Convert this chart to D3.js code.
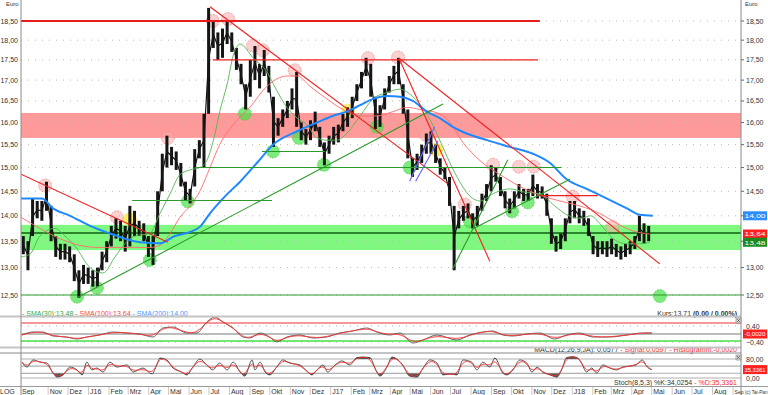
<!DOCTYPE html>
<html>
<head>
<meta charset="utf-8">
<script src="https://cdn.jsdelivr.net/npm/d3@7"></script>
<style>
  body { margin: 0; background: #fff; }
  svg { display: block; font-family: "Liberation Sans", Arial, sans-serif; }
  .lbl { font-size: 7px; fill: #333; }
</style>
</head>
<body>
<div id="chart"></div>
<script>
// ---- chart data ----
// time runs in weeks from the first visible trading week
const startDate = new Date(2015, 8, 21);
const endDate = new Date(2018, 8, 13);
const monthNames = ["J", "Feb", "Mrz", "Apr", "Mai", "Jun", "Jul", "Aug", "Sep", "Okt", "Nov", "Dez"];
const priceTicks = [12.5, 13, 13.5, 14, 14.5, 15, 15.5, 16, 16.5, 17, 17.5, 18, 18.5];

// weekly low / high of the candles
const weekLow = [
  13.25, 12.95, 13.6, 13.95, 13.9, 14.1, 13.5, 13.2, 13.15, 13.15,
  13.1, 12.75, 12.45, 12.7, 12.7, 12.65, 12.65, 12.95, 13.1, 13.4,
  13.55, 13.5, 13.3, 13.4, 13.6, 13.6, 13.5, 13.2, 13.05, 13.6,
  14.5, 15.0, 15.05, 14.95, 14.6, 14.3, 14.25, 14.6, 15.2, 15.0,
  16.2, 17.8, 17.5, 17.55, 17.9, 17.7, 17.25, 16.9, 16.3, 16.6,
  17.0, 16.8, 17.1, 16.7, 15.45, 15.7, 15.9, 16.1, 16.3, 15.9,
  15.6, 15.5, 15.6, 15.8, 15.45, 15.05, 15.3, 15.5, 15.55, 15.8,
  15.9, 16.1, 16.5, 16.8, 17.1, 16.6, 15.85, 15.9, 16.3, 16.7,
  16.9, 16.9, 16.2, 15.2, 14.8, 14.95, 15.1, 15.3, 15.3, 15.1,
  14.85, 14.75, 14.2, 12.95, 13.75, 13.9, 13.95, 13.75, 13.8, 14.1,
  14.3, 14.5, 14.7, 14.4, 14.15, 14.05, 14.15, 14.35, 14.3, 14.3,
  14.4, 14.35, 14.35, 14.0, 13.45, 13.3, 13.35, 13.5, 13.85, 13.95,
  13.85, 13.8, 13.6, 13.25, 13.2, 13.25, 13.2, 13.25, 13.2, 13.15,
  13.2, 13.25, 13.35, 13.5, 13.45, 13.5
];
const weekHigh = [
  13.6, 13.5, 14.35, 14.3, 14.3, 14.7, 14.2, 13.6, 13.45, 13.45,
  13.4, 13.25, 12.95, 13.05, 13.0, 12.95, 13.0, 13.3, 13.5, 13.8,
  13.95, 13.9, 13.8, 14.2, 14.1, 13.9, 13.85, 13.6, 13.6, 14.5,
  15.3, 15.7, 15.45, 15.35, 15.1, 14.7, 14.55, 15.4, 15.6, 16.2,
  18.85, 18.5, 18.2, 18.3, 18.5, 18.2, 17.8, 17.4, 16.9, 17.5,
  17.85, 17.4, 17.75, 17.35, 16.6, 16.1, 16.3, 16.5, 16.8, 17.2,
  16.0, 15.85, 16.05, 16.25, 15.9, 15.55, 15.7, 15.9, 15.95, 16.2,
  16.35, 16.6, 16.9, 17.2, 17.55, 17.4, 16.6, 16.4, 16.8, 17.1,
  17.35, 17.55, 16.9, 16.3, 15.2, 15.3, 15.5, 15.75, 15.8, 15.5,
  15.2, 15.0, 14.8, 14.2, 14.1, 14.2, 14.25, 14.05, 14.2, 14.45,
  14.65, 15.05, 15.0, 14.8, 14.5, 14.35, 14.5, 14.65, 14.55, 14.55,
  14.85, 14.65, 14.6, 14.45, 13.95, 13.6, 13.65, 13.95, 14.3, 14.3,
  14.15, 14.1, 13.95, 13.6, 13.5, 13.5, 13.5, 13.55, 13.45, 13.4,
  13.45, 13.5, 13.6, 14.0, 13.85, 13.8
];

// moving averages as [week, value]
const sma30 = [
  [0, 13.2], [1.9, 13.25], [4.1, 13.6], [7.3, 13.75], [9.5, 13.6], [11.7, 13.4], [14.9, 13.0],
  [17.7, 12.9], [20.3, 13.2], [22.4, 13.45], [24.6, 13.6], [27.8, 13.65], [30.0, 14.05],
  [32.2, 14.45], [34.3, 14.85], [36.5, 14.95], [38.6, 15.0], [40.1, 15.15], [41.9, 15.75],
  [42.9, 16.25], [44.5, 16.9], [45.8, 17.6], [47.3, 17.9], [50.1, 17.55], [53.1, 17.2],
  [55.2, 16.75], [57.4, 16.35], [59.6, 16.1], [61.7, 15.95], [63.9, 15.65], [66.0, 15.6],
  [68.2, 15.6], [70.3, 15.75], [73.2, 16.15], [76.0, 16.55], [79.0, 16.7], [81.8, 16.78],
  [84.6, 16.6], [87.6, 16.2], [90.4, 15.6], [92.6, 15.1], [94.7, 14.7], [96.9, 14.4],
  [99.1, 14.3], [101.9, 14.45], [105.5, 14.55], [108.8, 14.48], [112.0, 14.45], [115.2, 14.2],
  [118.3, 14.0], [120.9, 13.95], [123.0, 14.0], [124.9, 13.85], [127.8, 13.55], [130.8, 13.45],
  [133.6, 13.45], [135.7, 13.48]
];
const sma100 = [
  [0, 13.97], [4.1, 13.75], [8.4, 13.55], [12.7, 13.42], [17.0, 13.38], [27.8, 13.38],
  [30.0, 13.42], [32.2, 13.65], [34.3, 13.97], [36.5, 14.2], [38.6, 14.5], [40.8, 15.0],
  [42.9, 15.5], [46.2, 16.0], [49.4, 16.35], [53.1, 16.85], [57.4, 17.1], [59.6, 17.1],
  [62.4, 16.85], [66.0, 16.55], [69.5, 16.3], [73.2, 16.15], [76.8, 16.15], [80.3, 16.25],
  [83.3, 16.35], [86.1, 16.3], [90.4, 16.2], [92.6, 16.0], [95.4, 15.55], [99.1, 15.15],
  [103.4, 14.85], [107.7, 14.6], [112.0, 14.42], [116.3, 14.3], [120.6, 14.2], [124.9, 14.05],
  [128.6, 13.85], [132.1, 13.7], [135.7, 13.64]
];
const sma200 = [
  [0, 14.35], [4.5, 14.35], [6.9, 14.15], [10.6, 14.0], [14.9, 13.8], [19.2, 13.65],
  [22.4, 13.55], [25.7, 13.48], [30.0, 13.46], [33.2, 13.6], [36.5, 13.68], [38.6, 13.78],
  [40.8, 14.05], [44.4, 14.43], [47.3, 14.7], [51.1, 15.12], [54.4, 15.5], [59.6, 15.8],
  [63.9, 16.0], [67.3, 16.15], [70.3, 16.25], [73.2, 16.4], [76.0, 16.55], [79.0, 16.62],
  [81.8, 16.6], [84.6, 16.5], [87.6, 16.25], [90.4, 16.1], [93.2, 15.9], [96.2, 15.75],
  [100.6, 15.6], [105.5, 15.45], [110.5, 15.3], [114.2, 15.1], [117.8, 14.75], [122.1, 14.55],
  [126.5, 14.35], [130.8, 14.15], [133.6, 14.02], [136.4, 14.0]
];

// oscillators as [week, value]
const macdValues = [
  [0.2, -0.05], [2.6, 0.1], [4.7, 0.1], [6.9, -0.1], [9.9, -0.15], [12.1, -0.25], [14.2, -0.15],
  [17.0, -0.05], [19.9, 0.1], [22.9, 0.05], [25.7, 0], [28.5, -0.15], [30.6, 0.3], [32.8, 0.35],
  [35.8, 0.05], [38.0, 0.05], [40.1, 0.6], [41.9, 0.85], [43.6, 0.6], [45.8, 0.3], [47.9, -0.15],
  [49.4, -0.2], [51.6, 0.05], [53.7, -0.15], [55.2, -0.4], [57.4, -0.15], [60.2, -0.05],
  [63.0, -0.2], [66.0, -0.15], [68.8, 0.05], [71.6, 0.15], [74.7, 0.3], [76.8, 0.1],
  [79.6, -0.05], [81.8, 0.05], [84.6, -0.45], [86.8, -0.3], [89.8, -0.05], [94.1, -0.3],
  [96.9, -0.05], [99.7, 0.1], [101.9, 0.15], [104.0, -0.05], [106.2, -0.1], [109.2, 0],
  [112.0, 0.05], [115.2, -0.25], [117.8, -0.05], [120.6, 0.05], [123.4, -0.15], [127.1, -0.15],
  [130.8, -0.05], [134.2, 0.05], [136.2, 0.05]
];
const stochK = [
  [0.2, 67], [1.3, 46], [2.6, 76], [4.1, 67], [5.6, 63], [6.9, 21], [7.8, 4], [9.1, 13],
  [10.6, 46], [12.1, 34], [13.2, 13], [14.2, 67], [15.3, 34], [16.4, 42], [17.7, 25], [19.2, 67],
  [20.7, 46], [22.9, 55], [24.2, 25], [26.3, 42], [28.3, 17], [29.3, 55], [30.0, 84], [31.5, 76],
  [32.8, 42], [34.7, 25], [35.8, 13], [37.1, 46], [38.6, 80], [40.1, 55], [41.4, 34], [42.9, 63],
  [44.5, 34], [45.8, 67], [47.3, 25], [48.3, 8], [49.9, 76], [50.5, 34], [51.6, 67], [52.7, 25],
  [53.7, 13], [55.2, 46], [56.5, 76], [58.0, 63], [60.2, 55], [61.9, 25], [62.8, 13], [63.9, 34],
  [65.2, 55], [66.2, 25], [67.8, 55], [69.3, 72], [71.0, 55], [72.5, 86], [73.8, 88], [75.3, 86],
  [76.8, 25], [77.5, 8], [79.0, 46], [80.1, 88], [81.4, 76], [82.4, 55], [83.9, 8], [85.5, 4],
  [86.8, 42], [88.3, 76], [89.8, 63], [91.1, 13], [92.6, 17], [94.1, 13], [95.4, 76], [97.3, 67],
  [98.4, 34], [99.7, 67], [101.2, 46], [102.3, 84], [104.0, 21], [104.9, 13], [106.2, 34],
  [107.7, 76], [109.2, 63], [110.3, 25], [111.4, 46], [112.6, 25], [114.2, 13], [115.7, 4],
  [116.7, 34], [117.8, 86], [119.1, 90], [120.2, 84], [120.9, 67], [122.1, 25], [123.2, 42],
  [124.3, 21], [125.6, 55], [127.1, 42], [128.6, 34], [129.9, 46], [131.4, 50], [132.8, 55],
  [134.1, 76], [135.2, 46], [136.2, 35]
];

// drawn analysis: zones, lines [[week, price], [week, price]] and marker circles
const redZone = [15.65, 16.22];
const greenZone = [13.33, 13.82];
const supportLevel = 13.66;
const bottomLevel = 12.5;
const redLines = [
  [[0, 14.86], [31.7, 13.48]],
  [[40.8, 18.88], [92.1, 14.66]],
  [[81.6, 17.54], [101.2, 13.12]],
  [[81.6, 17.54], [137.9, 13.07]],
  [[41.4, 17.5], [111.6, 17.5]],
  [[111.4, 14.41], [124.5, 14.41]]
];
const topLine = [[0, 18.5], [112.0, 18.5]];
const greenLines = [
  [[12.1, 12.45], [91.1, 16.43]],
  [[24.0, 14.31], [54.2, 14.31]],
  [[37.5, 15.0], [116.7, 15.0]],
  [[52.0, 15.35], [65.6, 15.35]],
  [[93.2, 12.98], [105.1, 15.17]],
  [[97.5, 13.74], [118.5, 14.75]]
];
const blueLines = [
  [[83.9, 14.71], [89.3, 15.9]],
  [[85.2, 14.71], [90.0, 15.58]]
];
const pinkMarks = [
  [5.2, 14.62], [20.7, 13.97], [31.7, 15.65], [41.4, 18.5], [44.7, 18.55], [50.1, 17.86],
  [52.2, 17.74], [59.1, 17.24], [74.9, 17.54], [81.4, 17.56], [87.4, 15.72], [95.8, 14.23],
  [101.9, 15.06], [107.5, 15.02], [110.7, 15.02], [119.1, 14.39], [127.7, 13.78]
];
const greenMarks = [
  [12.1, 12.47], [16.4, 12.63], [27.8, 13.14], [36.0, 14.29], [48.3, 16.2], [54.4, 15.35],
  [60.0, 15.65], [65.4, 15.06], [76.8, 15.9], [83.9, 15.0], [96.9, 13.89], [106.0, 14.09],
  [109.4, 14.27], [137.9, 12.48]
];
const yellowMarks = [[23.5, 13.93], [70.6, 16.27], [89.6, 15.39]];

// last values shown in boxes on the right axis
const lastValues = [[14.0, "14,00", "#2f8cff"], [13.64, "13,64", "#ff2020"], [13.48, "13,48", "#1e8a1e"]];

const toDate = (w) => new Date(startDate.getTime() + w * 7 * 864e5);
const fmt = (v, n = 2) => d3.format(`.${n}f`)(v).replace(".", ",");

class TaiPanChart {
  constructor(parentElement) {
    this.config = {
      parentElement: parentElement,
      width: 768,
      height: 395,
      left: 21,
      right: 741,
      mainBottom: 316,
      macdTop: 317,
      macdBottom: 347,
      stochTop: 354,
      stochBottom: 386,
      axisY: 387
    };
    this.initVis();
  }

  initVis() {
    let vis = this;
    const c = vis.config;

    vis.svg = d3.select(c.parentElement).append("svg")
      .attr("width", c.width)
      .attr("height", c.height);

    // scales
    vis.x = d3.scaleTime().domain([startDate, endDate]).range([c.left, c.right]);
    vis.y = d3.scaleLog().domain([12.5, 18.5]).range([295, 21]);
    vis.yMacd = d3.scaleLinear().domain([-0.4, 0.4]).range([342, 326]);
    vis.yStoch = d3.scaleLinear().domain([0, 80]).range([378, 359]);

    const defs = vis.svg.append("defs");
    const clip = (id, y0, y1) => defs.append("clipPath").attr("id", id)
      .append("rect").attr("x", c.left).attr("y", y0)
      .attr("width", c.right - c.left).attr("height", y1 - y0);
    clip("clip-main", 0, c.mainBottom);
    clip("clip-macd", c.macdTop, c.macdBottom);
    clip("clip-stoch", c.stochTop, c.stochBottom);
    clip("clip-over", 0, vis.yStoch(80));
    clip("clip-under", vis.yStoch(20), c.stochBottom);

    vis.renderMain();
    vis.renderMacd();
    vis.renderStoch();
    vis.renderFrame();
  }

  renderMain() {
    let vis = this;
    const c = vis.config;
    const g = vis.svg.append("g").attr("clip-path", "url(#clip-main)");
    const px = (d) => vis.x(toDate(d[0]));
    const py = (d) => vis.y(d[1]);

    // resistance / support zones
    g.append("rect").attr("x", c.left).attr("width", c.right - c.left)
      .attr("y", vis.y(redZone[1])).attr("height", vis.y(redZone[0]) - vis.y(redZone[1]))
      .attr("fill", "#ff9a9a");
    g.append("rect").attr("x", c.left).attr("width", c.right - c.left)
      .attr("y", vis.y(greenZone[1])).attr("height", vis.y(greenZone[0]) - vis.y(greenZone[1]))
      .attr("fill", "#80f880");

    // dotted horizontal grid
    g.selectAll(".grid").data(priceTicks).join("line")
      .attr("x1", c.left).attr("x2", c.right)
      .attr("y1", (d) => vis.y(d)).attr("y2", (d) => vis.y(d))
      .attr("stroke", "#b8b8b8").attr("stroke-dasharray", "1,6");

    // marker circles
    const marks = (data, fill, stroke) => g.append("g").selectAll("circle").data(data).join("circle")
      .attr("cx", px).attr("cy", py).attr("r", 6.5)
      .attr("fill", fill).attr("stroke", stroke).attr("stroke-dasharray", "2,1");
    marks(pinkMarks, "rgba(246,170,170,0.55)", "rgba(235,140,140,0.7)");
    marks(greenMarks, "rgba(70,225,70,0.7)", "rgba(60,200,60,0.6)");
    marks(yellowMarks, "rgba(255,235,60,0.8)", "rgba(240,220,40,0.7)");

    // full width levels
    const hLine = (level, color, w) => g.append("line")
      .attr("x1", c.left).attr("x2", c.right)
      .attr("y1", vis.y(level)).attr("y2", vis.y(level))
      .attr("stroke", color).attr("stroke-width", w);
    hLine(bottomLevel, "#2a9a2a", 1.2);
    hLine(supportLevel, "#0f5f0f", 1.5);

    // candles (weekly range bars)
    const candles = weekLow.map((lo, i) => ({ date: toDate(i + 0.5), low: lo, high: weekHigh[i] }));
    g.append("path").datum(candles)
      .attr("fill", "none").attr("stroke", "#111").attr("stroke-width", 1.2)
      .attr("d", d3.line().x((d) => vis.x(d.date)).y((d) => vis.y((d.low + d.high) / 2)));
    g.selectAll(".candle").data(candles).join("line")
      .attr("x1", (d) => vis.x(d.date)).attr("x2", (d) => vis.x(d.date))
      .attr("y1", (d) => vis.y(d.low)).attr("y2", (d) => vis.y(d.high))
      .attr("stroke", "#151515").attr("stroke-width", 3);

    // moving averages
    const maLine = d3.line().x(px).y(py).curve(d3.curveMonotoneX);
    g.append("path").datum(sma30).attr("d", maLine)
      .attr("fill", "none").attr("stroke", "#55b455").attr("stroke-width", 0.9);
    g.append("path").datum(sma100).attr("d", maLine)
      .attr("fill", "none").attr("stroke", "#ff6a6a").attr("stroke-width", 0.9);
    g.append("path").datum(sma200).attr("d", maLine)
      .attr("fill", "none").attr("stroke", "#1e88ff").attr("stroke-width", 2);

    // trend lines
    const seg = (data, color, w) => g.append("g").selectAll("line").data(data).join("line")
      .attr("x1", (d) => px(d[0])).attr("y1", (d) => py(d[0]))
      .attr("x2", (d) => px(d[1])).attr("y2", (d) => py(d[1]))
      .attr("stroke", color).attr("stroke-width", w);
    seg(redLines, "#f02020", 1.1);
    seg([topLine], "#e81c1c", 2);
    seg(greenLines, "#2a9a2a", 1.1);
    seg(blueLines, "#6a6aff", 1.2);

    // legend and last price
    const leg = vis.svg.append("text").attr("class", "lbl").attr("x", 22).attr("y", 315.5);
    leg.append("tspan").attr("fill", "#3aa83a").text("- SMA(30):13,48 ");
    leg.append("tspan").attr("fill", "#ff4040").text("- SMA(100):13,64 ");
    leg.append("tspan").attr("fill", "#3d9bff").text("- SMA(200):14,00");
    const kurs = vis.svg.append("text").attr("class", "lbl").attr("x", 737).attr("y", 315.5)
      .attr("text-anchor", "end");
    kurs.append("tspan").text("Kurs:13,71 ");
    kurs.append("tspan").attr("font-weight", "bold").text("(0,00 / 0,00%)");
  }

  renderMacd() {
    let vis = this;
    const c = vis.config;
    const g = vis.svg.append("g").attr("clip-path", "url(#clip-macd)");
    const px = (d) => vis.x(toDate(d[0]));
    const py = (d) => vis.yMacd(d[1]);

    g.selectAll(".dot").data([0.4, -0.4]).join("line")
      .attr("x1", c.left).attr("x2", c.right)
      .attr("y1", (d) => vis.yMacd(d)).attr("y2", (d) => vis.yMacd(d))
      .attr("stroke", "#aaa").attr("stroke-dasharray", "1,6");
    const hl = (v, color, w) => g.append("line").attr("x1", c.left).attr("x2", c.right)
      .attr("y1", vis.yMacd(v)).attr("y2", vis.yMacd(v)).attr("stroke", color).attr("stroke-width", w);
    hl(0.55, "#f03030", 1.2);
    hl(0, "#555", 0.8);
    hl(-0.35, "#44e044", 1.5);

    g.append("path").datum(macdValues)
      .attr("d", d3.line().x(px).y(py).curve(d3.curveMonotoneX))
      .attr("fill", "none").attr("stroke", "#555").attr("stroke-width", 0.9);
    g.append("path").datum(macdValues)
      .attr("d", d3.line().x(px).y(py).curve(d3.curveBasis))
      .attr("fill", "none").attr("stroke", "#ff3030").attr("stroke-width", 0.9);

    const t = vis.svg.append("text").attr("class", "lbl").attr("x", 737).attr("y", 351.5)
      .attr("text-anchor", "end");
    t.append("tspan").text("MACD(12,26,9,JA): 0,0577 ");
    t.append("tspan").attr("fill", "#f03030").text("- Signal:0,0597 - Histogramm:-0,0020");

    vis.svg.append("text").attr("class", "lbl").attr("x", 746).attr("y", vis.yMacd(0.4) + 2.5).text(fmt(0.4));
    vis.svg.append("text").attr("class", "lbl").attr("x", 746).attr("y", vis.yMacd(-0.4) + 2.5).text(fmt(-0.4));
    vis.valueBox(vis.yMacd(0), "-0,0020", "#ff2020");
  }

  renderStoch() {
    let vis = this;
    const c = vis.config;
    const g = vis.svg.append("g").attr("clip-path", "url(#clip-stoch)");
    const px = (d) => vis.x(toDate(d[0]));
    const py = (d) => vis.yStoch(d[1]);

    g.selectAll(".lvl").data([80, 50, 20, 0]).join("line")
      .attr("x1", c.left).attr("x2", c.right)
      .attr("y1", (d) => vis.yStoch(d)).attr("y2", (d) => vis.yStoch(d))
      .attr("stroke", "#b0b0b0").attr("stroke-width", 1.2);

    // shaded over-bought / over-sold parts
    const area = (level) => d3.area().x(px).y0(vis.yStoch(level)).y1(py).curve(d3.curveMonotoneX);
    g.append("path").datum(stochK).attr("d", area(80)).attr("fill", "#555")
      .attr("clip-path", "url(#clip-over)");
    g.append("path").datum(stochK).attr("d", area(20)).attr("fill", "#555")
      .attr("clip-path", "url(#clip-under)");

    g.append("path").datum(stochK)
      .attr("d", d3.line().x(px).y(py).curve(d3.curveMonotoneX))
      .attr("fill", "none").attr("stroke", "#444").attr("stroke-width", 0.9);
    g.append("path").datum(stochK)
      .attr("d", d3.line().x(px).y(py).curve(d3.curveBasis))
      .attr("fill", "none").attr("stroke", "#ff3030").attr("stroke-width", 0.9);

    const t = vis.svg.append("text").attr("class", "lbl").attr("x", 737).attr("y", 385)
      .attr("text-anchor", "end");
    t.append("tspan").text("Stoch(8,5,3) %K:34,0254 ");
    t.append("tspan").attr("fill", "#f03030").text("- %D:35,3361");

    vis.svg.append("text").attr("class", "lbl").attr("x", 746).attr("y", vis.yStoch(80) + 2.5).text("80,00");
    vis.svg.append("text").attr("class", "lbl").attr("x", 746).attr("y", vis.yStoch(0) + 2.5).text("0,00");
    vis.valueBox(vis.yStoch(35.3361), "35,3361", "#ff2020");
  }

  valueBox(yPos, text, color) {
    let vis = this;
    vis.svg.append("rect").attr("x", 743).attr("y", yPos - 4.5).attr("width", 24).attr("height", 9)
      .attr("fill", color);
    vis.svg.append("text").attr("class", "lbl").attr("x", 744.5).attr("y", yPos + 2.3)
      .style("font-size", "6.2px")
      .attr("textLength", 21).attr("lengthAdjust", "spacingAndGlyphs")
      .style("fill", "#fff").text(text);
  }

  renderFrame() {
    let vis = this;
    const c = vis.config;

    // panel separators
    const sep = (y, color, w, x2 = c.right) => vis.svg.append("line")
      .attr("x1", 0).attr("x2", x2).attr("y1", y).attr("y2", y)
      .attr("stroke", color).attr("stroke-width", w);
    sep(316.5, "#c4c4c4", 2);
    sep(347.5, "#c4c4c4", 2);
    sep(353, "#8a8a8a", 1);
    sep(386.5, "#9a9a9a", 1, c.width);

    // axes lines
    [c.left, c.right].forEach((xv) => vis.svg.append("line")
      .attr("x1", xv).attr("x2", xv).attr("y1", 0).attr("y2", c.height)
      .attr("stroke", "#8a8a8a"));

    // price labels both sides; right labels hidden under the value boxes are left out
    const freeTicks = priceTicks.filter((t) => lastValues.every((b) => Math.abs(vis.y(t) - vis.y(b[0])) > 6));
    vis.svg.selectAll(".ltick").data(priceTicks).join("text").attr("class", "lbl")
      .attr("x", 18).attr("y", (d) => vis.y(d) + 2.5).attr("text-anchor", "end").text((d) => fmt(d));
    vis.svg.selectAll(".rtick").data(freeTicks).join("text").attr("class", "lbl")
      .attr("x", 746).attr("y", (d) => vis.y(d) + 2.5).text((d) => fmt(d));
    vis.svg.selectAll(".rtm").data(priceTicks).join("line")
      .attr("x1", c.right).attr("x2", c.right + 3)
      .attr("y1", (d) => vis.y(d)).attr("y2", (d) => vis.y(d)).attr("stroke", "#666");
    vis.svg.append("text").attr("class", "lbl").attr("x", 6).attr("y", 6).style("font-size", "6px").text("Euro");
    vis.svg.append("text").attr("class", "lbl").attr("x", 745).attr("y", 6).style("font-size", "6px").text("Euro");

    // last values of the averages
    lastValues.forEach((b) => vis.valueBox(vis.y(b[0]), b[1], b[2]));

    // close buttons of the sub panels
    [318, 355].forEach((yv) => {
      vis.svg.append("rect").attr("x", 736).attr("y", yv).attr("width", 5).attr("height", 5)
        .attr("fill", "#ddd").attr("stroke", "#666").attr("stroke-width", 0.5);
      vis.svg.append("path").attr("d", `M737,${yv + 1}L740,${yv + 4}M740,${yv + 1}L737,${yv + 4}`)
        .attr("stroke", "#333").attr("stroke-width", 0.6);
    });

    // month axis
    const months = d3.timeMonth.range(d3.timeMonth.ceil(startDate), endDate)
      .filter((m) => m > new Date(2015, 9, 15));
    vis.svg.selectAll(".mtick").data(months).join("line")
      .attr("x1", (d) => vis.x(d)).attr("x2", (d) => vis.x(d))
      .attr("y1", c.axisY).attr("y2", c.height).attr("stroke", "#c8c8c8");
    vis.svg.selectAll(".mlbl").data(months).join("text").attr("class", "lbl")
      .attr("x", (d) => vis.x(d) + 1.5).attr("y", 393.5)
      .each(function (d) {
        // the last label is squeezed against the right axis
        if (vis.x(d) + 13 > c.right) {
          d3.select(this).attr("textLength", 9).attr("lengthAdjust", "spacingAndGlyphs")
            .style("font-size", "6px");
        }
      })
      .text((d) => d.getMonth() === 0 ? "J" + String(d.getFullYear()).slice(2) : monthNames[d.getMonth()]);
    vis.svg.append("text").attr("class", "lbl").attr("x", 22).attr("y", 393.5).text("Sep");
    vis.svg.append("text").attr("class", "lbl").attr("x", 0).attr("y", 393.5).text("LOG");
    vis.svg.append("text").attr("class", "lbl").attr("x", 745).attr("y", 393.5)
      .style("font-size", "4.8px")
      .attr("textLength", 22.5).attr("lengthAdjust", "spacingAndGlyphs").text("(c) Tai-Pan");
  }
}

new TaiPanChart("#chart");
</script>
</body>
</html>
